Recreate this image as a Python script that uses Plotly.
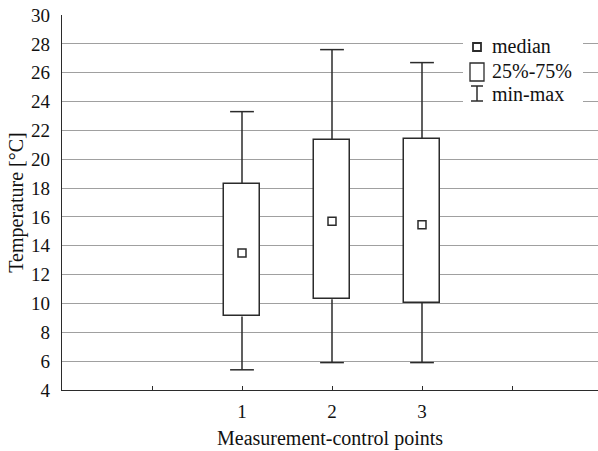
import plotly.graph_objects as go

# Data
points = [1, 2, 3]
tick_vals = [0, 1, 2, 3, 4]
tick_text = ["", "1", "2", "3", ""]
mins = [5.4, 5.9, 5.9]
q1 = [9.1, 10.3, 10.05]
medians = [13.5, 15.7, 15.45]
q3 = [18.3, 21.35, 21.4]
maxs = [23.3, 27.6, 26.7]

W, H = 598, 451
L, R, T, B = 62, 0, 15, 61
PW, PH = W - L - R, H - T - B
FONT = "Liberation Serif, Times New Roman, serif"
DARK = "#2b2b2b"


def px(x):
    return (x - L) / PW


def py(y):
    return (H - B - y) / PH


fig = go.Figure()

# whisker stems (no caps at the box edges)
fig.add_trace(go.Scatter(
    x=points, y=q3, mode="markers", marker=dict(size=1, opacity=0),
    error_y=dict(type="data", symmetric=False, array=[m - b for m, b in zip(maxs, q3)],
                 arrayminus=[0, 0, 0], color=DARK, thickness=1.5, width=0),
    showlegend=False, hoverinfo="skip"))
fig.add_trace(go.Scatter(
    x=points, y=q1, mode="markers", marker=dict(size=1, opacity=0),
    error_y=dict(type="data", symmetric=False, array=[0, 0, 0],
                 arrayminus=[a - m for a, m in zip(q1, mins)], color=DARK, thickness=1.5, width=0),
    showlegend=False, hoverinfo="skip"))
# whisker caps at min and max
fig.add_trace(go.Scatter(
    x=points + points, y=maxs + mins, mode="markers",
    marker=dict(symbol="line-ew", size=17, line=dict(color=DARK, width=1.5)),
    showlegend=False, hoverinfo="skip"))

# boxes (25%-75%)
fig.add_trace(go.Bar(
    x=points, base=q1, y=[b - a for a, b in zip(q1, q3)], width=0.4,
    marker=dict(color="white", line=dict(color=DARK, width=1.5)),
    showlegend=False, hoverinfo="skip"))

# medians
fig.add_trace(go.Scatter(
    x=points, y=medians, mode="markers",
    marker=dict(symbol="square", size=8, color="white", line=dict(color=DARK, width=1.5)),
    showlegend=False))

shapes = []
annotations = []
# legend background
shapes.append(dict(type="rect", xref="paper", yref="paper", x0=px(463), x1=px(583),
                   y0=py(106), y1=py(33), fillcolor="white", line=dict(width=0), layer="above"))
# median symbol
shapes.append(dict(type="rect", xref="paper", yref="paper", x0=px(473), x1=px(481),
                   y0=py(51), y1=py(43), fillcolor="white", line=dict(color=DARK, width=1.8), layer="above"))
# box symbol
shapes.append(dict(type="rect", xref="paper", yref="paper", x0=px(470), x1=px(484),
                   y0=py(81), y1=py(63), fillcolor="white", line=dict(color=DARK, width=1.3), layer="above"))
# whisker symbol
for (xa, ya, xb, yb) in [(477, 86, 477, 101), (471, 86, 483, 86), (471, 101, 483, 101)]:
    shapes.append(dict(type="line", xref="paper", yref="paper", x0=px(xa), x1=px(xb),
                       y0=py(ya), y1=py(yb), line=dict(color=DARK, width=1.5), layer="above"))
for text, yc in [("median", 46), ("25%-75%", 71), ("min-max", 94)]:
    annotations.append(dict(text=text, xref="paper", yref="paper", x=px(490), y=py(yc),
                            xanchor="left", yanchor="middle", showarrow=False,
                            font=dict(family=FONT, size=20, color="#111")))

fig.update_layout(
    width=W, height=H, margin=dict(l=L, r=R, t=T, b=B),
    paper_bgcolor="white", plot_bgcolor="white",
    font=dict(family=FONT, size=19, color="#111"),
    shapes=shapes, annotations=annotations, bargap=0,
    xaxis=dict(range=[-1, -1 + PW / 90], tickvals=tick_vals, ticktext=tick_text,
               ticks="inside", ticklen=4, tickcolor=DARK, showgrid=False, zeroline=False,
               showline=True, linecolor=DARK, linewidth=1.2,
               tickfont=dict(size=19), ticklabelstandoff=4,
               title=dict(text="Measurement-control points", font=dict(size=20), standoff=10)),
    yaxis=dict(range=[4, 30], dtick=2, tick0=4, showgrid=True, gridcolor="#a0a0a0", gridwidth=1,
               zeroline=False, showline=True, linecolor=DARK, linewidth=1.2, ticks="",
               ticklabelstandoff=7, tickfont=dict(size=19),
               title=dict(text="Temperature [°C]", font=dict(size=20), standoff=2)),
)

fig.write_html("out.html")
